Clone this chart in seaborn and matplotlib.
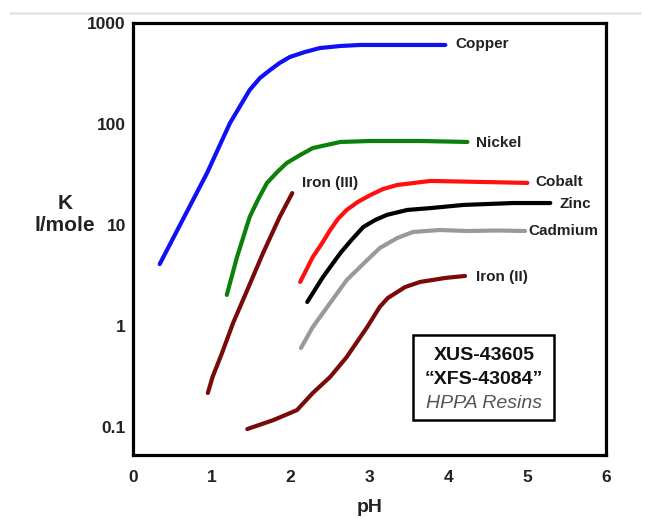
import numpy as np
import pandas as pd
import matplotlib
matplotlib.use("Agg")
import matplotlib.pyplot as plt
import seaborn as sns
from matplotlib.ticker import FixedLocator, NullLocator

# values (pH, K in l/mole)
copper_ph = [0.34, 0.63, 0.94, 1.23, 1.48, 1.61, 1.74, 1.86, 1.99, 2.18, 2.37, 2.63, 2.88, 3.96]
copper_k = [4.1, 11.2, 32.7, 102, 217, 285, 343, 402, 461, 516, 565, 592, 606, 606]

nickel_ph = [1.19, 1.32, 1.48, 1.59, 1.70, 1.83, 1.95, 2.12, 2.28, 2.63, 3.01, 3.64, 4.24]
nickel_k = [2.03, 4.82, 12.0, 18.1, 26.1, 33.5, 41.1, 49.3, 57.8, 66.4, 67.9, 67.9, 66.4]

iron3_ph = [0.95, 1.01, 1.13, 1.27, 1.45, 1.65, 1.86, 2.02]
iron3_k = [0.217, 0.313, 0.541, 1.07, 2.27, 5.28, 12.0, 20.7]

cobalt_ph = [2.12, 2.28, 2.40, 2.50, 2.60, 2.71, 2.85, 3.01, 3.17, 3.35, 3.77, 4.40, 5.00]
cobalt_k = [2.73, 4.82, 6.64, 8.9, 11.5, 14.1, 16.9, 19.8, 22.7, 24.9, 27.3, 26.7, 26.1]

zinc_ph = [2.21, 2.41, 2.63, 2.77, 2.92, 3.07, 3.22, 3.48, 3.77, 4.19, 4.82, 5.29]
zinc_k = [1.73, 3.06, 5.28, 7.10, 9.55, 11.2, 12.6, 14.1, 14.7, 15.8, 16.5, 16.5]

cadmium_ph = [2.13, 2.28, 2.50, 2.71, 2.97, 3.13, 3.35, 3.55, 3.89, 4.24, 4.62, 4.97]
cadmium_k = [0.605, 0.977, 1.69, 2.85, 4.50, 5.92, 7.43, 8.53, 8.92, 8.72, 8.82, 8.72]

iron2_ph = [1.45, 1.78, 2.08, 2.28, 2.50, 2.71, 2.97, 3.13, 3.23, 3.45, 3.64, 3.96, 4.21]
iron2_k = [0.0955, 0.117, 0.147, 0.217, 0.313, 0.493, 0.977, 1.55, 1.89, 2.43, 2.73, 2.99, 3.13]

series = [
    ("Copper", copper_ph, copper_k, "#1010f5"),
    ("Nickel", nickel_ph, nickel_k, "#0b800b"),
    ("Iron (III)", iron3_ph, iron3_k, "#7a0a0a"),
    ("Cobalt", cobalt_ph, cobalt_k, "#ff1010"),
    ("Zinc", zinc_ph, zinc_k, "#000000"),
    ("Cadmium", cadmium_ph, cadmium_k, "#999999"),
    ("Iron (II)", iron2_ph, iron2_k, "#7a0a0a"),
]

x_ticks = [0, 1, 2, 3, 4, 5, 6]
y_ticks = [0.1, 1, 10, 100, 1000]
y_tick_labels = ["0.1", "1", "10", "100", "1000"]

sns.set_style("white")
plt.rcParams['font.family'] = ['Liberation Sans', 'DejaVu Sans']

fig = plt.figure(figsize=(6.45, 5.18), dpi=100)
ax = fig.add_axes([0.206, 0.1216, 0.734, 0.834])

for name, ph, k, col in series:
    df = pd.DataFrame({"pH": ph, "K": k})
    sns.lineplot(data=df, x="pH", y="K", ax=ax, color=col, linewidth=3.0,
                 sort=False, solid_capstyle="round", solid_joinstyle="round")

ax.set_yscale("log")
ax.set_xlim(0, 6)
ax.set_ylim(0.0528, 1000)
ax.xaxis.set_major_locator(FixedLocator(x_ticks))
ax.yaxis.set_major_locator(FixedLocator(y_ticks))
ax.yaxis.set_minor_locator(NullLocator())
ax.set_yticklabels(y_tick_labels)
ax.tick_params(axis="both", length=0, labelsize=12.5, colors="#222222")
ax.tick_params(axis="x", pad=11)
ax.tick_params(axis="y", pad=5)
for lab in ax.get_xticklabels() + ax.get_yticklabels():
    lab.set_fontweight("bold")
for sp in ax.spines.values():
    sp.set_linewidth(2.3)
    sp.set_color("black")

ax.set_xlabel("pH", fontsize=14, fontweight="bold", color="#222222", labelpad=10)
ax.set_ylabel("")
fig.text(0.101, 1 - 214 / 518, "K\nl/mole", ha="center", va="center", fontsize=15,
         fontweight="bold", color="#222222", linespacing=1.2)

# curve labels at the end of each curve
label_pos = {
    "Copper": (455, 44), "Nickel": (476, 143), "Iron (III)": (302, 183),
    "Cobalt": (535, 182), "Zinc": (560, 204), "Cadmium": (528, 231),
    "Iron (II)": (476, 277),
}
for name, (px, py) in label_pos.items():
    fig.text(px / 645, 1 - py / 518, name, ha="left", va="center",
             fontsize=11, fontweight="bold", color="#222222")

# resin box
box_lines = [("XUS-43605", 355, "bold", "normal", "#111111"),
             ("\u201cXFS-43084\u201d", 380, "bold", "normal", "#111111"),
             ("HPPA Resins", 404, "normal", "italic", "#555555")]
for txt, py, wt, st, col in box_lines:
    fig.text(484 / 645, 1 - py / 518, txt, ha="center", va="center",
             fontsize=14, fontweight=wt, fontstyle=st, color=col)
box = plt.Rectangle((413 / 645, 1 - 420 / 518), 141 / 645, 85 / 518,
                    transform=fig.transFigure, fill=False, edgecolor="black",
                    linewidth=1.8)
fig.add_artist(box)

# faint screenshot line at the very top
fig.add_artist(plt.Line2D([10 / 645, 640 / 645], [1 - 13 / 518, 1 - 13 / 518],
                          transform=fig.transFigure, color="#e6e6e6", linewidth=2))

fig.savefig("out.png", dpi=100)
